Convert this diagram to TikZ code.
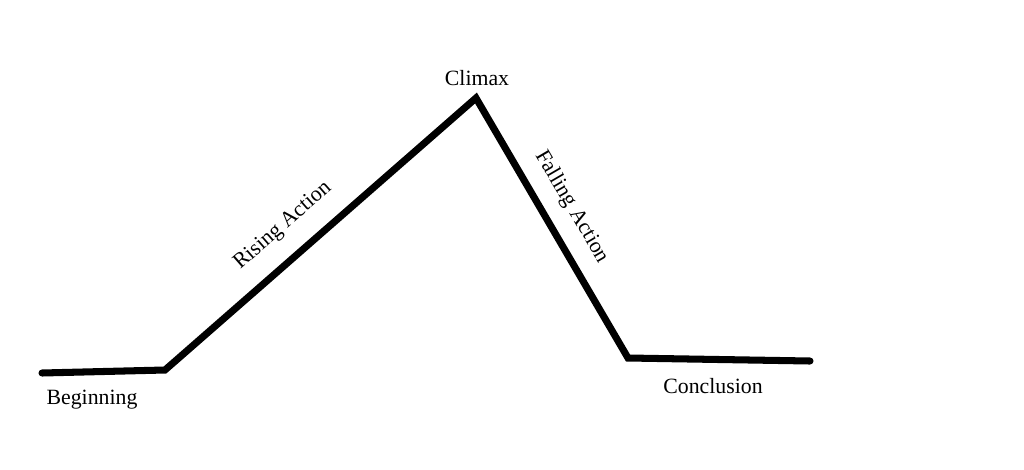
\documentclass[tikz,border=0pt]{standalone}
\usepackage{fontspec}
\setmainfont{Liberation Serif}
\usepackage{tikz}

\tikzset{lbl/.style={font=\fontsize{15.5}{18}\selectfont, inner sep=0pt}}

\begin{document}
\begin{tikzpicture}[x=0.025cm,y=-0.025cm]
   \useasboundingbox (0,0) rectangle (1024,469);
   \coordinate(start) at (42,373);
   \coordinate(begin) at (165,370);
   \coordinate(peak) at (476,98);
   \coordinate(fall) at (628,358);
   \coordinate(stop) at (810,361);
   \node[lbl](beginning) at (92,400) {Beginning};
   \node[lbl](climax) at (477,78) {Climax};
   \node[lbl](conclusion) at (713,386) {Conclusion};
   \node[lbl, rotate=41.2](rising) at (283,226) {Rising Action};
   \node[lbl, rotate=-59.7](falling) at (572,207) {Falling Action};

   \draw[line width=5pt, line cap=round](start) -- (begin) -- (peak) -- (fall) -- (stop);

   \end{tikzpicture}
\end{document}
